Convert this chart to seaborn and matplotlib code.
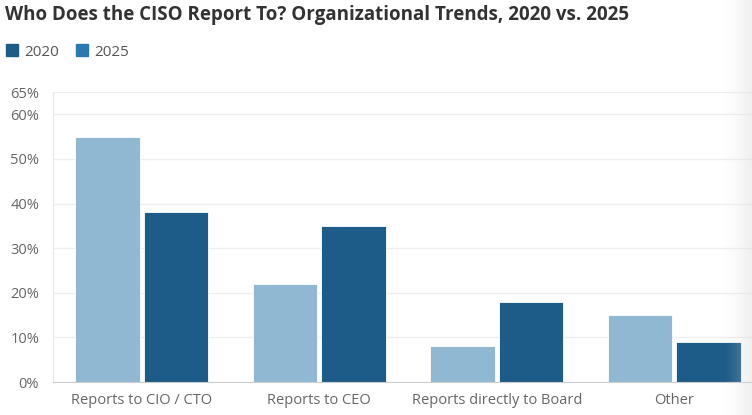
"""
Who does the CISO report to - grouped bars, 2020 vs 2025
"""

import numpy as np
import pandas as pd
import matplotlib
matplotlib.use('Agg')
import matplotlib.pyplot as plt
from matplotlib.lines import Line2D
import seaborn as sns

# Data
categories = ['Reports to CIO / CTO', 'Reports to CEO', 'Reports directly to Board', 'Other']
share_2020 = [55, 22, 8, 15]
share_2025 = [38, 35, 18, 9]
years = ['2020', '2025']
y_ticks = [0, 10, 20, 30, 40, 50, 60, 65]

bar_colors = {'2020': '#91b8d3', '2025': '#1d5b88'}
legend_colors = {'2020': '#1d5b88', '2025': '#2a79b1'}

df = pd.DataFrame({
    'category': categories * 2,
    'year': ['2020'] * len(categories) + ['2025'] * len(categories),
    'share': share_2020 + share_2025,
})

sns.set_style('white')
plt.rcParams['font.family'] = ['Open Sans', 'DejaVu Sans']

fig = plt.figure(figsize=(7.52, 4.15), dpi=100)
ax = fig.add_axes([53 / 752, 1 - 382 / 415, 710 / 752, 290 / 415])

sns.barplot(data=df, x='category', y='share', hue='year', hue_order=years,
            palette=bar_colors, saturation=1, width=0.77, gap=0.06, legend=False,
            edgecolor='white', linewidth=0.6, ax=ax)

ax.set_xlim(-0.5, 3.5)
ax.set_ylim(0, 65)
ax.set_yticks(y_ticks)
ax.set_yticklabels([f'{v}%' for v in y_ticks])
ax.set_xlabel('')
ax.set_ylabel('')
ax.grid(axis='y', color='#efefef', linewidth=0.9)
ax.set_axisbelow(True)
ax.tick_params(axis='y', length=9, color='#e6e6e6', labelsize=10.5,
               labelcolor='#666666', pad=1)
ax.tick_params(axis='x', length=0, labelsize=10.5, labelcolor='#666666', pad=8)
for s in ['top', 'right']:
    ax.spines[s].set_visible(False)
ax.spines['left'].set_color('#e6e6e6')
ax.spines['bottom'].set_color('#cccccc')

# Title and legend
fig.text(5 / 752, 1 - 15 / 415, 'Who Does the CISO Report To? Organizational Trends, 2020 vs. 2025',
         fontsize=13.5, fontweight='bold', color='#333333', va='center', ha='left')

handles = [Line2D([0], [0], marker='s', linestyle='', markersize=9,
                  markerfacecolor=legend_colors[y], markeredgecolor=legend_colors[y])
           for y in years]
fig.legend(handles, years, loc='center left', bbox_to_anchor=(-0.012, 1 - 52 / 415),
           ncol=2, frameon=False, fontsize=11, labelcolor='#555555',
           handletextpad=0.3, columnspacing=1.0, handlelength=1.0)

# faded right edge
fade = fig.add_axes([722 / 752, 0, 30 / 752, 1])
grad = np.zeros((2, 60, 4))
grad[..., :3] = 0.85
grad[..., 3] = np.linspace(0, 0.55, 60) ** 1.5
fade.imshow(grad, aspect='auto', extent=[0, 1, 0, 1])
fade.axis('off')

plt.savefig('out.png', dpi=100)
plt.close()
